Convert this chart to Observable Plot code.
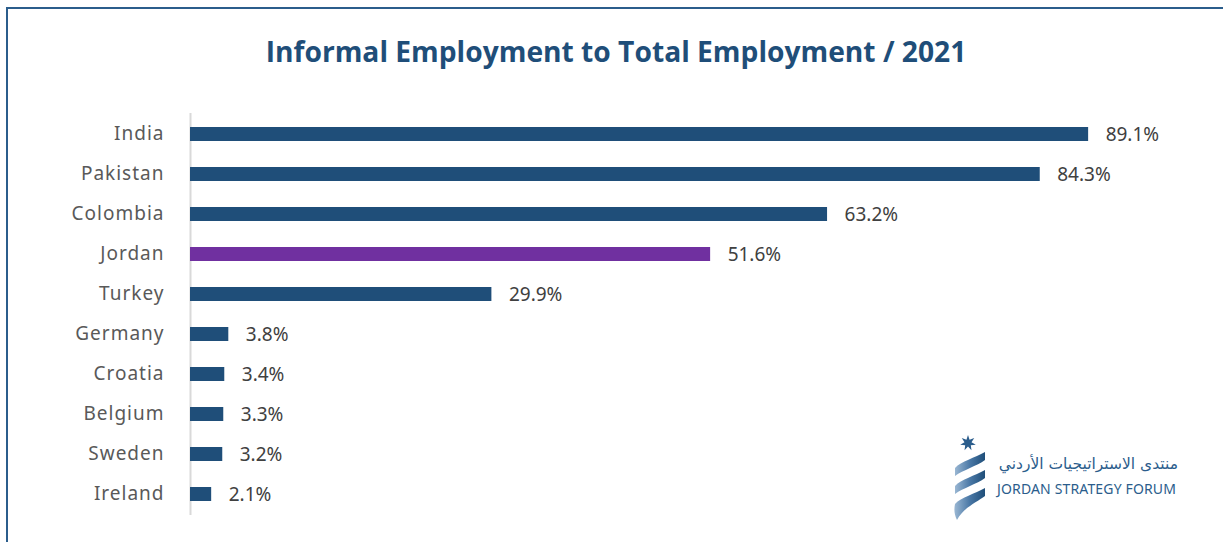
<!DOCTYPE html>
<html><head><meta charset="utf-8">
<script src="https://cdn.jsdelivr.net/npm/d3@7"></script>
<script src="https://cdn.jsdelivr.net/npm/@observablehq/plot@0.6"></script>
<style>
html,body{margin:0;padding:0;background:#fff;}
body{width:1223px;height:542px;overflow:hidden;position:relative;font-family:"Noto Sans",sans-serif;}
#frame{position:absolute;left:6px;top:7px;right:-10px;bottom:-10px;border-top:2px solid #2b5d8c;border-left:2px solid #2b5d8c;pointer-events:none;}
#title{height:100px;box-sizing:border-box;padding-top:32px;padding-left:9px;font:700 28.2px "Open Sans",sans-serif;line-height:38px;text-align:center;color:#1f4e79;}
#chart svg{display:block;}
#chart svg g[aria-label="y-axis tick label"] text{letter-spacing:1px;}
#logo{position:absolute;left:945px;top:430px;width:250px;height:100px;}
#logo .ar{position:absolute;right:17px;top:25px;font:15.5px "DejaVu Sans",sans-serif;color:#2b5d8c;direction:rtl;white-space:nowrap;}
#logo .en{position:absolute;left:52px;top:49px;font:14px "Noto Sans",sans-serif;color:#2b5d8c;white-space:nowrap;letter-spacing:0.15px;}
#logo svg{position:absolute;left:0;top:0;}
</style>
</head><body>
<div id="frame"></div>
<div id="title">Informal Employment to Total Employment / 2021</div>
<div id="chart"></div>
<div id="logo">
  <svg width="50" height="100" viewBox="0 0 50 100">
    <defs><linearGradient id="g" x1="0" x2="1" y1="0" y2="0">
      <stop offset="0" stop-color="#9ab7d3"/><stop offset="0.5" stop-color="#4a78a6"/><stop offset="1" stop-color="#1f4e79"/></linearGradient></defs>
    <polygon id="star" fill="#2b5d8c"/>
    <path d="M10,38 C16,31 30,28 40,22 L40,30 C32,36 18,40 10,46 Z" fill="url(#g)"/>
    <path d="M10,56 C16,49 30,46 40,40 L40,48 C32,54 18,58 10,64 Z" fill="url(#g)"/>
    <path d="M10,74 C16,67 30,64 40,58 L40,66 C32,72 18,78 12,90 C9,84 9,79 10,74 Z" fill="url(#g)"/>
  </svg>
  <div class="ar">منتدى الاستراتيجيات الأردني</div>
  <div class="en">JORDAN STRATEGY FORUM</div>
</div>
<script>
const countries = ["India","Pakistan","Colombia","Jordan","Turkey","Germany","Croatia","Belgium","Sweden","Ireland"];
const values = [89.1,84.3,63.2,51.6,29.9,3.8,3.4,3.3,3.2,2.1];
const highlight = "Jordan";

const data = countries.map((c,i)=>({country:c, value:values[i]}));
const blue = "#1f4e79", purple = "#7030a0";

// star decoration for logo
(function(){
  const cx=23, cy=13, R=8, r=3.6, n=7, pts=[];
  for(let i=0;i<2*n;i++){const a=-Math.PI/2+i*Math.PI/n;const rr=i%2?r:R;pts.push((cx+rr*Math.cos(a)).toFixed(2)+","+(cy+rr*Math.sin(a)).toFixed(2));}
  document.getElementById("star").setAttribute("points",pts.join(" "));
})();

const chart = Plot.plot({
  width: 1223,
  height: 442,
  marginTop: 13,
  marginBottom: 27,
  marginLeft: 190,
  marginRight: 25,
  style: {fontFamily: "'Noto Sans', sans-serif", color: "#595959", background: "transparent"},
  x: {domain: [0, 100], axis: null},
  y: {domain: countries, paddingInner: 0.65, paddingOuter: 0.325, label: null},
  marks: [
    Plot.axisY({tickSize: 0, tickPadding: 26, fontSize: 19, label: null, dy: -1}),
    Plot.ruleX([0], {stroke: "#d9d9d9", strokeWidth: 2}),
    Plot.barX(data, {x: "value", y: "country", fill: d => d.country === highlight ? purple : blue}),
    Plot.text(data, {x: "value", y: "country", text: d => d.value.toFixed(1) + "%", dx: 17, textAnchor: "start", fontSize: 19, fill: "#404040"})
  ]
});
document.getElementById("chart").appendChild(chart);
</script>
</body></html>
